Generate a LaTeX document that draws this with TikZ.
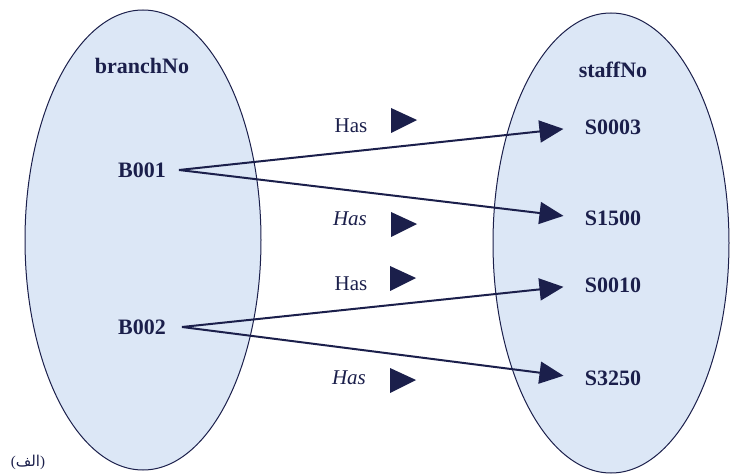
\documentclass[tikz,border=0pt]{standalone}
\usepackage{fontspec}
\usetikzlibrary{arrows.meta}
\setmainfont{Liberation Serif}
\newfontfamily\arabicfont[Script=Arabic]{DejaVu Sans}
\TeXXeTstate=1
\definecolor{navy}{HTML}{1B1F4B}
\definecolor{setfill}{HTML}{DCE7F6}
\begin{document}
\begin{tikzpicture}[x=1pt,y=-1pt,
  setell/.style={draw=navy,fill=setfill,line width=1pt},
  val/.style={text=navy,font=\fontsize{22}{24}\selectfont\bfseries},
  hdr/.style={text=navy,font=\fontsize{22}{24}\selectfont\bfseries},
  haslbl/.style={text=navy,font=\fontsize{21}{24}\selectfont},
  conn/.style={draw=navy,line width=2pt,shorten >=18pt,-{Triangle[length=24pt,width=22pt]}},
  tri/.style={fill=navy}]
\useasboundingbox (0,0) rectangle (732,476);
\path[setell] (143,240) ellipse [x radius=118, y radius=230];
\path[setell] (611,243) ellipse [x radius=118, y radius=230];
\node[hdr] (bh) at (142,66) {branchNo};
\node[hdr] (sh) at (613,70) {staffNo};
\node[val] (b1) at (142,170) {B001};
\node[val] (b2) at (142,327) {B002};
\node[val] (s1) at (613,127) {S0003};
\node[val] (s2) at (613,218) {S1500};
\node[val] (s3) at (613,285) {S0010};
\node[val] (s4) at (613,378) {S3250};
\coordinate (b1o) at (179,170);
\coordinate (b2o) at (182,327);
\draw[conn] (b1o) -- (s1.west);
\draw[conn] (b1o) -- (s2.west);
\draw[conn] (b2o) -- (s3.west);
\draw[conn] (b2o) -- (s4.west);
\node[haslbl] (h1) at (351,126) {Has};
\node[haslbl,font=\fontsize{21}{24}\selectfont\itshape] (h2) at (350,219) {Has};
\node[haslbl] (h3) at (351,284) {Has};
\node[haslbl,font=\fontsize{21}{24}\selectfont\itshape] (h4) at (349,378) {Has};
\fill[tri] (391,108) -- (417,120) -- (391,133) -- cycle;
\fill[tri] (391,212) -- (417,224) -- (391,237) -- cycle;
\fill[tri] (390,266) -- (416,278) -- (390,291) -- cycle;
\fill[tri] (390,368) -- (416,380) -- (390,393) -- cycle;
\node[text=navy,font=\fontsize{15}{17}\selectfont] (lbl) at (28,462) {({\arabicfont\beginR الف\endR})};
\end{tikzpicture}
\end{document}
